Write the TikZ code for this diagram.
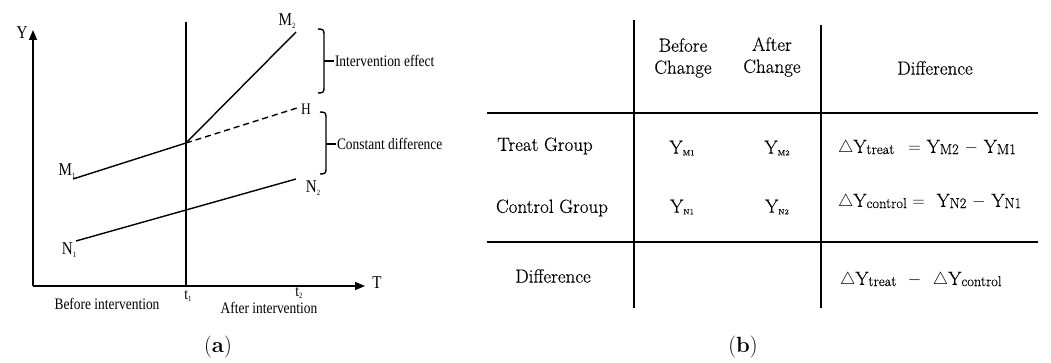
\documentclass[tikz,border=0pt]{standalone}
\usepackage{fontspec}
\usetikzlibrary{arrows.meta}
\newfontfamily\condfont[FakeStretch=0.84]{Liberation Serif}
\newfontfamily\tabfam[FakeBold=0.3]{Latin Modern Roman}
\newcommand\plotfont{\condfont\fontsize{16}{16}\selectfont}
\newcommand\symfont{\condfont\fontsize{18}{18}\selectfont}
\newcommand\tabfont{\tabfam\fontsize{19}{22}\selectfont}
\newcommand\lbl[2]{#1\raisebox{-0.4ex}{\fontsize{8}{8}\selectfont #2}}
\newcommand\ysub[1]{Y\raisebox{-0.2ex}{\fontsize{7.5}{7.5}\selectfont #1}}
\newcommand\yidx[1]{Y\raisebox{-0.15ex}{\fontsize{14.5}{14.5}\selectfont #1}}
\tikzset{
  axis/.style={line width=1.4pt, -{Triangle[length=10pt,width=8pt]}},
  trend/.style={line width=1.4pt},
  plotlbl/.style={font=\plotfont},
  symlbl/.style={font=\symfont},
  cell/.style={font=\tabfont, align=center},
  rule/.style={line width=1.4pt}
}
\begin{document}
\begin{tikzpicture}[y=1pt, x=1pt, yscale=-1, inner sep=0pt, outer sep=0pt]
\useasboundingbox (0,0) rectangle (1051,363);
% (a) trend lines
\coordinate (O) at (33,286);
\coordinate (ytop) at (33,30);
\coordinate (tend) at (365,286);
\coordinate (ttop) at (186,22);
\coordinate (tbot) at (186,286);
\coordinate (m1) at (73,179);
\coordinate (k) at (186,143);
\coordinate (m2) at (296,32);
\coordinate (h) at (297,108);
\coordinate (n1) at (76,241);
\coordinate (n2) at (296,179);
\draw[axis] (O) -- (ytop);
\draw[axis] (O) -- (tend);
\draw[trend] (ttop) -- (tbot);
\draw[trend] (m1) -- (k) -- (m2);
\draw[trend, dash pattern=on 6pt off 4pt] (k) -- (h);
\draw[trend] (n1) -- (n2);
\draw[line width=1.4pt] (318,29) .. controls (323,29) and (324,30) .. (324,34)
  -- (324,88) .. controls (324,92) and (323,93) .. (318,93);
\draw[line width=1.4pt] (324,61) -- (334,61);
\draw[line width=1.4pt] (320,112) .. controls (325,112) and (326,113) .. (326,117)
  -- (326,169) .. controls (326,173) and (325,174) .. (320,174);
\draw[line width=2pt] (326,144) -- (336,144);
\node[symlbl] (ylab) at (22,33) {Y};
\node[symlbl] (tlab) at (377,283) {T};
\node[symlbl] (m1lab) at (67,171) {\lbl{M}{1}};
\node[symlbl] (m2lab) at (287,21) {\lbl{M}{2}};
\node[plotlbl] (hlab) at (306,109) {H};
\node[symlbl] (n1lab) at (69,250) {\lbl{N}{1}};
\node[symlbl] (n2lab) at (313,188) {\lbl{N}{2}};
\node[plotlbl] (t1lab) at (188,296) {\lbl{t}{1}};
\node[plotlbl] (t2lab) at (299,293) {\lbl{t}{2}};
\node[plotlbl] (before) at (107,304) {Before intervention};
\node[plotlbl] (after) at (269,308) {After intervention};
\node[plotlbl, anchor=west] (effect) at (335,61) {Intervention effect};
\node[plotlbl, anchor=west] (const) at (337,144) {Constant difference};
\node[font=\fontsize{22}{22}\selectfont] (capa) at (218,347) {(\textbf{a})};
% (b) table
\draw[rule] (487,113) -- (1038,113);
\draw[rule] (487,242) -- (1038,242);
\draw[rule] (634,20) -- (634,308);
\draw[rule] (821,25) -- (821,308);
\node[cell] (hbefore) at (683,58) {Before\\Change};
\node[cell] (hafter) at (772,57) {After\\Change};
\node[cell] (hdiff) at (935,68) {Difference};
\node[cell] (treat) at (545,146) {Treat Group};
\node[cell] (control) at (552,208) {Control Group};
\node[cell] (rdiff) at (553,276) {Difference};
\node[cell] (ym1) at (682,148) {\ysub{M1}};
\node[cell] (ym2) at (777,148) {\ysub{M2}};
\node[cell] (yn1) at (682,207) {\ysub{N1}};
\node[cell] (yn2) at (777,207) {\ysub{N2}};
\node[cell, anchor=west] (dtreat) at (838,148)
  {$\triangle$\yidx{treat}\hspace{14pt}$=$ \yidx{M2} $-$ \yidx{M1}};
\node[cell, anchor=west] (dcontrol) at (838,202)
  {$\triangle$\yidx{control} $=$\hspace{6pt} \yidx{N2} $-$ \yidx{N1}};
\node[cell, anchor=west] (ddiff) at (840,280)
  {$\triangle$\yidx{treat} \ $-$ \ $\triangle$\yidx{control}};
\node[font=\fontsize{22}{22}\selectfont] (capb) at (743,347) {(\textbf{b})};
\end{tikzpicture}
\end{document}
